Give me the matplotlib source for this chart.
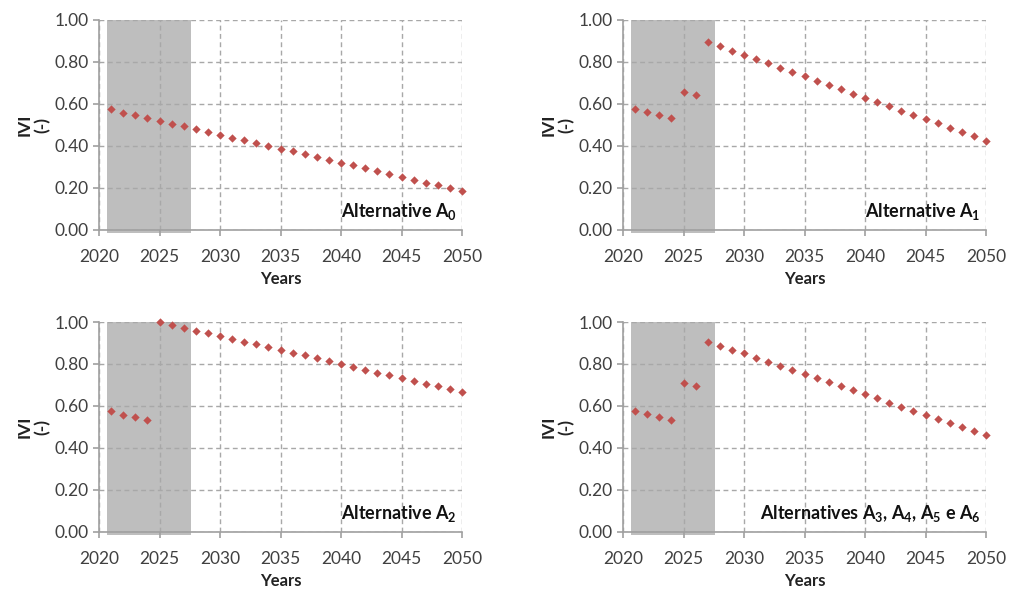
import numpy as np
import matplotlib
matplotlib.use("Agg")
import matplotlib.pyplot as plt

plt.rcParams['font.family'] = ['Lato', 'DejaVu Sans']

years = np.arange(2021, 2051)

ivi_a0 = [0.575, 0.559, 0.548, 0.533, 0.521, 0.506, 0.494, 0.481, 0.468, 0.454,
          0.440, 0.427, 0.413, 0.400, 0.387, 0.375, 0.360, 0.348, 0.333, 0.319,
          0.308, 0.294, 0.281, 0.267, 0.254, 0.240, 0.225, 0.213, 0.200, 0.187]
ivi_a1 = [0.575, 0.560, 0.548, 0.533, 0.659, 0.644, 0.895, 0.875, 0.854, 0.835,
          0.814, 0.794, 0.773, 0.752, 0.732, 0.711, 0.690, 0.670, 0.649, 0.630,
          0.610, 0.589, 0.568, 0.548, 0.529, 0.508, 0.487, 0.467, 0.446, 0.425]
ivi_a2 = [0.574, 0.559, 0.547, 0.532, 1.000, 0.987, 0.973, 0.959, 0.946, 0.933,
          0.920, 0.906, 0.894, 0.880, 0.867, 0.854, 0.841, 0.827, 0.813, 0.800,
          0.786, 0.773, 0.759, 0.746, 0.734, 0.721, 0.707, 0.694, 0.680, 0.667]
ivi_a3 = [0.574, 0.561, 0.547, 0.532, 0.708, 0.694, 0.905, 0.887, 0.868, 0.851,
          0.830, 0.810, 0.791, 0.770, 0.753, 0.732, 0.713, 0.694, 0.675, 0.655,
          0.636, 0.616, 0.597, 0.577, 0.556, 0.539, 0.518, 0.501, 0.480, 0.460]

labels = [r'Alternative A$_\mathbf{0}$', r'Alternative A$_\mathbf{1}$',
          r'Alternative A$_\mathbf{2}$',
          r'Alternatives A$_\mathbf{3}$, A$_\mathbf{4}$, A$_\mathbf{5}$ e A$_\mathbf{6}$']
series = [ivi_a0, ivi_a1, ivi_a2, ivi_a3]

shade_start, shade_end = 2020.65, 2027.6

W, H = 1015, 592
fig = plt.figure(figsize=(W / 100, H / 100), dpi=100)
plt.rcParams['mathtext.fontset'] = 'custom'
plt.rcParams['mathtext.bf'] = 'Lato:bold'
plt.rcParams['mathtext.rm'] = 'Lato:bold'

# axes boxes in pixels: left, right, top, bottom
boxes = [(99, 462, 20, 230), (623, 986, 20, 230),
         (99, 462, 322, 532), (623, 986, 322, 532)]

grid_c = '#a8a8a8'
for (l, r, t, b), vals, lab in zip(boxes, series, labels):
    ax = fig.add_axes([l / W, 1 - b / H, (r - l) / W, (b - t) / H])
    ax.set_xlim(2020, 2050)
    ax.set_ylim(0, 1)
    ax.axvspan(shade_start, shade_end, ymin=-0.012, ymax=1.0, color='#bebebe',
               zorder=0, clip_on=False, lw=0)
    ax.set_xticks(np.arange(2020, 2051, 5))
    ax.set_yticks(np.arange(0, 1.01, 0.2))
    ax.set_yticklabels([f'{v:.2f}' for v in np.arange(0, 1.01, 0.2)])
    ax.grid(True, ls=(0, (3.5, 2.5)), color=grid_c, lw=1.0, zorder=1)
    for s in ['top', 'right']:
        ax.spines[s].set_visible(False)
    for s in ['left', 'bottom']:
        ax.spines[s].set_color('#a0a0a0')
        ax.spines[s].set_linewidth(1.2)
    ax.tick_params(axis='both', colors='#a0a0a0', labelcolor='#404040',
                   labelsize=12.5, length=4, width=1.2)
    ax.tick_params(axis='x', pad=10)
    ax.scatter(years, vals, marker='D', s=18, color='#c0504d', zorder=3,
               clip_on=False, lw=0)
    ax.set_xlabel('Years', fontsize=12, fontweight='bold', color='#222222',
                  labelpad=4)
    ax.set_ylabel('IVI\n(-)', fontsize=12.5, fontweight='bold', color='#222222',
                  labelpad=3, linespacing=1.1)
    ax.text(0.985, 0.04, lab, transform=ax.transAxes, ha='right', va='bottom',
            fontsize=13, fontweight='bold', color='#111111', zorder=4)

fig.savefig('out.png', dpi=100)
